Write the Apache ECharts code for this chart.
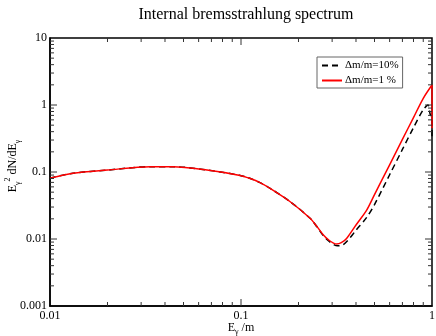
<!DOCTYPE html>
<html>
<head>
<meta charset="utf-8">
<script src="https://cdn.jsdelivr.net/npm/echarts@6/dist/echarts.min.js"></script>
<style>
  html, body { margin: 0; padding: 0; background: #fff; }
  #chart { width: 436px; height: 336px; }
</style>
</head>
<body>
<div id="chart"></div>
<script>
// E_gamma/m values and spectrum E^2 dN/dE for the two mass splittings
const energy1 = [0.01, 0.0132, 0.02, 0.0334, 0.044, 0.0664, 0.099, 0.111, 0.125, 0.142, 0.181, 0.23, 0.25, 0.27, 0.29, 0.305, 0.317, 0.335, 0.357, 0.4, 0.455, 0.5, 0.6, 0.7, 0.8, 0.9, 1, 1];
const spec1 = [0.081, 0.096, 0.107, 0.120, 0.120, 0.107, 0.089, 0.0805, 0.070, 0.057, 0.036, 0.0204, 0.0153, 0.0115, 0.0095, 0.0087, 0.0084, 0.0088, 0.0102, 0.0162, 0.027, 0.046, 0.128, 0.306, 0.649, 1.26, 1.99, 0.45];

const energy10 = [0.01, 0.0132, 0.02, 0.0334, 0.044, 0.0664, 0.099, 0.111, 0.125, 0.142, 0.181, 0.23, 0.25, 0.27, 0.29, 0.305, 0.32, 0.34, 0.36, 0.4, 0.455, 0.5, 0.6, 0.7, 0.8, 0.9, 0.953, 0.975, 1, 1];
const spec10 = [0.081, 0.096, 0.107, 0.120, 0.120, 0.107, 0.089, 0.0805, 0.070, 0.057, 0.036, 0.0204, 0.0152, 0.0112, 0.0092, 0.0083, 0.0079, 0.0081, 0.0093, 0.0135, 0.021, 0.0327, 0.091, 0.217, 0.46, 0.85, 1.0, 0.76, 0.55, 0.3];

const xLabels = [0.01, 0.1, 1];
const xMajor = [0.1];
const xMinor = [0.02, 0.03, 0.04, 0.05, 0.06, 0.07, 0.08, 0.09, 0.2, 0.3, 0.4, 0.5, 0.6, 0.7, 0.8, 0.9];
const yLabels = [0.001, 0.01, 0.1, 1, 10];
const yMajor = [0.01, 0.1, 1];
const yMinor = [];
[0.001, 0.01, 0.1, 1].forEach(function (d) {
  for (let k = 2; k <= 9; k++) yMinor.push(+(d * k).toPrecision(3));
});

const X_MIN = 0.01, X_MAX = 1, Y_MIN = 0.001, Y_MAX = 10;
const serif = 'Liberation Serif';
const fmt = function (v) { return String(+Number(v).toPrecision(3)); };
const zip = function (xs, ys) { return xs.map(function (x, i) { return [x, ys[i]]; }); };

// tick lengths as factors along the log axes (x decade ~191px, y decade ~67px)
const xMajorLen = Math.pow(10, 7 / 67), xMinorLen = Math.pow(10, 4 / 67);
const yMajorLen = Math.pow(10, 7 / 191), yMinorLen = Math.pow(10, 4 / 191);

// inside ticks on all four sides, as broken line series through the axes
function xTickData(vals, f) {
  const d = [];
  vals.forEach(function (v) {
    d.push([v, Y_MIN], [v, Y_MIN * f], [v, null]);
    d.push([v, Y_MAX], [v, Y_MAX / f], [v, null]);
  });
  return d;
}
function yTickData(vals, f) {
  const d = [];
  vals.forEach(function (v) {
    d.push([X_MIN, v], [X_MIN * f, v], [null, v]);
    d.push([X_MAX, v], [X_MAX / f, v], [null, v]);
  });
  return d;
}
function tickSeries(data) {
  return {
    type: 'line',
    silent: true,
    symbol: 'none',
    showSymbol: false,
    connectNulls: false,
    clip: false,
    z: 5,
    data: data,
    lineStyle: { color: '#333', width: 1 },
    tooltip: { show: false }
  };
}

const chart = echarts.init(document.getElementById('chart'));
chart.setOption({
  animation: false,
  title: {
    text: 'Internal bremsstrahlung spectrum',
    left: 241,
    textAlign: 'center',
    top: 2,
    textStyle: { fontFamily: serif, fontSize: 16, fontWeight: 'normal', color: '#000' }
  },
  legend: {
    left: 317,
    top: 57,
    orient: 'vertical',
    itemWidth: 20,
    itemHeight: 9,
    itemGap: 4,
    padding: [3, 4, 2, 4],
    borderColor: '#666',
    borderWidth: 1,
    itemStyle: { opacity: 0 },
    textStyle: { fontFamily: serif, fontSize: 11, color: '#000', padding: [0, 0, 0, -2] },
    data: ['Δm/m=10%', 'Δm/m=1 %']
  },
  grid: {
    left: 50, right: 4, top: 38, bottom: 30,
    containLabel: false, outerBoundsMode: 'none',
    show: true, borderColor: '#000', borderWidth: 1.5, backgroundColor: 'transparent'
  },
  xAxis: {
    type: 'log',
    min: X_MIN, max: X_MAX,
    splitLine: { show: false },
    axisLine: { show: true, onZero: false, lineStyle: { color: '#000', width: 1.5 } },
    axisTick: { show: false },
    axisLabel: { customValues: xLabels, formatter: fmt, fontFamily: serif, fontSize: 12, color: '#000', margin: 4 },
    name: '{b|E}{s|γ}{b| /m}',
    nameLocation: 'middle',
    nameGap: 14,
    nameMoveOverlap: false,
    nameTextStyle: {
      rich: {
        b: { fontFamily: serif, fontSize: 12, color: '#000', lineHeight: 16, verticalAlign: 'middle' },
        s: { fontFamily: serif, fontSize: 8, color: '#000', lineHeight: 8, verticalAlign: 'bottom' }
      }
    }
  },
  yAxis: {
    type: 'log',
    min: Y_MIN, max: Y_MAX,
    splitLine: { show: false },
    axisLine: { show: true, onZero: false, lineStyle: { color: '#000', width: 1.5 } },
    axisTick: { show: false },
    axisLabel: { customValues: yLabels, formatter: fmt, fontFamily: serif, fontSize: 12, color: '#000', margin: 3 },
    name: '{b|E}{s|γ}{p|2}{b| dN/dE}{s|γ}',
    nameLocation: 'middle',
    nameRotate: 90,
    nameGap: 28,
    nameMoveOverlap: false,
    nameTextStyle: {
      padding: [0, 0, 0, 12],
      rich: {
        b: { fontFamily: serif, fontSize: 12, color: '#000', lineHeight: 18, verticalAlign: 'middle' },
        s: { fontFamily: serif, fontSize: 8, color: '#000', lineHeight: 8, verticalAlign: 'bottom' },
        p: { fontFamily: serif, fontSize: 8, color: '#000', lineHeight: 8, verticalAlign: 'top' }
      }
    }
  },
  series: [
    {
      name: 'Δm/m=10%',
      type: 'line',
      showSymbol: false,
      symbol: 'none',
      smooth: 0.3,
      data: zip(energy10, spec10),
      lineStyle: { color: '#000', width: 1.5, type: [6, 4] },
      itemStyle: { color: '#000' }
    },
    {
      name: 'Δm/m=1 %',
      type: 'line',
      showSymbol: false,
      symbol: 'none',
      smooth: 0.3,
      data: zip(energy1, spec1),
      lineStyle: { color: '#ff0000', width: 1.5 },
      itemStyle: { color: '#ff0000' }
    },
    tickSeries(xTickData(xMajor, xMajorLen)),
    tickSeries(xTickData(xMinor, xMinorLen)),
    tickSeries(yTickData(yMajor, yMajorLen)),
    tickSeries(yTickData(yMinor, yMinorLen))
  ]
});
</script>
</body>
</html>
